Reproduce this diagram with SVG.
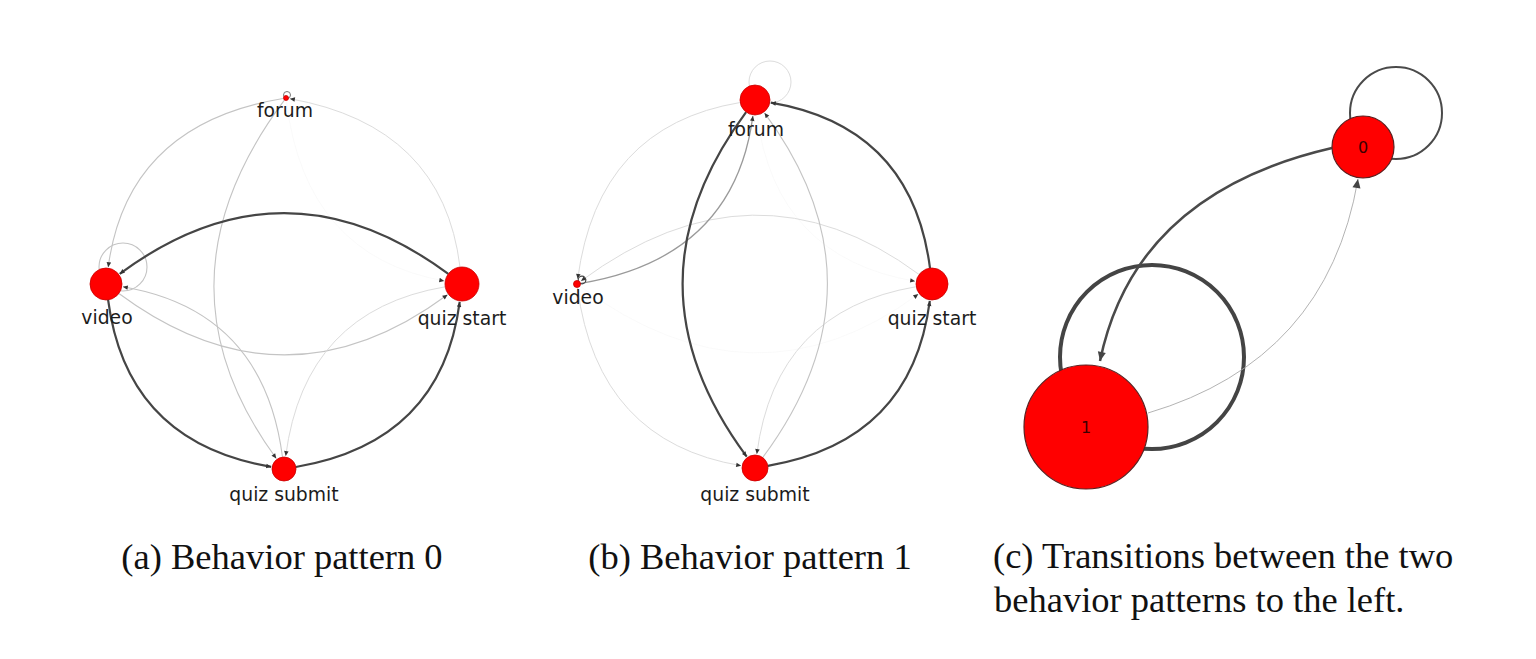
<svg xmlns="http://www.w3.org/2000/svg" width="1536" height="659" viewBox="0 0 1536 659">
<defs>
<style>
.node{fill:#ff0000;stroke:#c80000;stroke-width:0.8}
.nodec{fill:#ff0000;stroke:#5a2020;stroke-width:1.2}
.lbl{font-family:"DejaVu Sans",sans-serif;font-size:18.8px;fill:#1c1c1c;text-anchor:middle}
.num{font-family:"DejaVu Sans",sans-serif;font-size:16px;fill:#3a0000;text-anchor:middle}
.cap{font-family:"Liberation Serif","Times New Roman",serif;font-size:36.5px;fill:#111}
.e{fill:none}
.dark{stroke:#454545;stroke-width:2.2}
.mid{stroke:#9a9a9a;stroke-width:1.3}
.light{stroke:#c4c4c4;stroke-width:1.1}
.pale{stroke:#dcdcdc;stroke-width:1}
.faint{stroke:#f6f6f6;stroke-width:0.6}
.arr{marker-end:url(#ah)}
</style>
<marker id="ah" viewBox="0 0 10 10" refX="10" refY="5" markerUnits="userSpaceOnUse" markerWidth="6" markerHeight="5" orient="auto">
<path d="M0,0.5 L10,5 L0,9.5 z" fill="#333"/>
</marker>
<marker id="ahbig" viewBox="0 0 10 10" refX="10" refY="5" markerUnits="userSpaceOnUse" markerWidth="15" markerHeight="9" orient="auto">
<path d="M0,0.5 L10,5 L0,9.5 z" fill="#444"/>
</marker>
</defs>
<rect width="1536" height="659" fill="#ffffff"/>

<!-- Panel (a) -->
<g id="panel-a">
<g id="a-connectors">
<path class="e faint arr" d="M286.4,101 Q305.2,256.1 444.3,280.9"/>
<path class="e light arr" d="M283,98.5 Q127.2,124.4 108.2,267.2"/>
<path class="e pale arr" d="M460,267.1 Q442.8,125.9 289.9,98.7"/>
<path class="e light arr" d="M284.2,100.4 Q147.7,282.8 276.3,458.5"/>
<path class="e light arr" d="M118.9,293.5 Q284,415.7 447.5,294.7"/>
<path class="e light arr" d="M282.5,457.1 Q263.5,310.6 122.8,286.8"/>
<path class="e pale arr" d="M445.2,286.8 Q304.6,310.6 285.7,456.1"/>
<circle class="e light" cx="123" cy="267" r="24"/>
<circle class="e" cx="287" cy="95" r="3.5" stroke="#777" stroke-width="1"/>
<path class="e dark arr" d="M448.3,273.9 Q284,152.3 119.7,273.9"/>
<path class="e dark arr" d="M108.1,299.9 Q126.6,442.4 271.2,466.8"/>
<path class="e dark arr" d="M295.8,467 Q441.5,442.4 459.7,301.9"/>
</g>
<g id="a-forum"><circle class="node" cx="286" cy="98" r="2.5"/><text class="lbl" x="285" y="117">forum</text></g>
<g id="a-video"><circle class="node" cx="106" cy="284" r="16"/><text class="lbl" x="107" y="324">video</text></g>
<g id="a-quiz-start"><circle class="node" cx="462" cy="284" r="17"/><text class="lbl" x="462" y="325">quiz start</text></g>
<g id="a-quiz-submit"><circle class="node" cx="284" cy="469" r="12"/><text class="lbl" x="284" y="501">quiz submit</text></g>
</g>

<!-- Panel (b) -->
<g id="panel-b">
<g id="b-connectors">
<path class="e faint arr" d="M580.2,286.4 Q754.5,415.35 918.3,294.1"/>
<path class="e faint arr" d="M756.9,114.9 Q775.4,257.5 915.2,281.2"/>
<circle class="e pale" cx="770" cy="82" r="21"/>
<path class="e pale arr" d="M740.2,102.5 Q597.9,126.1 577.7,279"/>
<path class="e pale arr" d="M577.5,288 Q597.9,441.9 741.2,465.7"/>
<path class="e pale arr" d="M919.1,274.5 Q754.5,152.65 581,281"/>
<path class="e pale arr" d="M916.2,286.7 Q775.4,310.5 756.8,454.1"/>
<path class="e light arr" d="M762.7,457.5 Q891.2,284 764.5,112.9"/>
<path class="e mid arr" d="M580.9,283.3 Q734.1,257.9 752.9,115.9"/>
<circle class="e" cx="582" cy="280" r="3.8" stroke="#444" stroke-width="1.2"/>
<path class="e dark arr" d="M930,268.1 Q911.6,126.5 770.8,102.7"/>
<path class="e dark arr" d="M767.8,465.8 Q911.6,441.5 929.8,300.9"/>
<path class="e dark arr" d="M746.1,112.1 Q618.8,284 746.7,456.7"/>
</g>
<g id="b-forum"><circle class="node" cx="755" cy="100" r="15"/><text class="lbl" x="756" y="136">forum</text></g>
<g id="b-video"><circle class="node" cx="577" cy="284" r="3.5"/><text class="lbl" x="578" y="304">video</text></g>
<g id="b-quiz-start"><circle class="node" cx="932" cy="284" r="16"/><text class="lbl" x="932" y="325">quiz start</text></g>
<g id="b-quiz-submit"><circle class="node" cx="755" cy="468" r="13"/><text class="lbl" x="755" y="501">quiz submit</text></g>
</g>

<!-- Panel (c) -->
<g id="panel-c">
<g id="c-connectors">
<circle class="e" cx="1396" cy="113" r="46" stroke="#4a4a4a" stroke-width="2"/>
<circle class="e" cx="1152" cy="357" r="92" stroke="#444" stroke-width="4"/>
<path class="e" d="M1148,413 Q1327,360 1358,179" stroke="#aaa" stroke-width="0.9" marker-end="url(#ahbig)"/>
<path class="e" d="M1332,148 Q1134.5,193.5 1100,361" stroke="#4a4a4a" stroke-width="2.5" marker-end="url(#ahbig)"/>
</g>
<g id="c-node-0"><circle class="nodec" cx="1363" cy="147" r="31"/><text class="num" x="1363" y="153">0</text></g>
<g id="c-node-1"><circle class="nodec" cx="1086" cy="427" r="62"/><text class="num" x="1086" y="433">1</text></g>
</g>

<!-- Captions -->
<g id="captions">
<text class="cap" x="282" y="569" text-anchor="middle">(a) Behavior pattern 0</text>
<text class="cap" x="750" y="569" text-anchor="middle">(b) Behavior pattern 1</text>
<text class="cap" x="993" y="568">(c) Transitions between the two</text>
<text class="cap" x="994" y="612">behavior patterns to the left.</text>
</g>
</svg>
